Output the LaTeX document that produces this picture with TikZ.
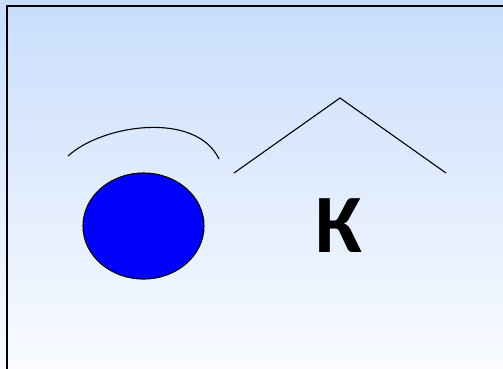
\documentclass[tikz,border=0pt]{standalone}
\usepackage{fontspec}
\newfontfamily\calib{Carlito}
\usetikzlibrary{shapes.geometric}
\definecolor{bgtop}{RGB}{200,221,252}
\definecolor{bgbot}{RGB}{249,251,255}
\definecolor{dotblue}{RGB}{0,0,255}
\tikzset{
  thinline/.style={draw=black, line width=1.1pt},
  dot/.style={ellipse, draw=black, line width=1.1pt, fill=dotblue, minimum width=121pt, minimum height=106pt, inner sep=0pt},
  letter/.style={font=\calib\bfseries\fontsize{83}{83}\selectfont, inner sep=0pt, text=black}
}
\begin{document}
\begin{tikzpicture}[x=1pt,y=-1pt]
\useasboundingbox (0,0) rectangle (503,368);
\shade[top color=bgtop, bottom color=bgbot] (0,0) rectangle (503,368);
\draw[line width=1.5pt] (7,380) -- (7,6) -- (515,6);
\node[dot] (ball) at (143.5,226) {};
\coordinate (arcL) at (68,156);
\coordinate (arcR) at (219,159);
\draw[thinline] (arcL) .. controls (103,124) and (196,111) .. (arcR);
\coordinate (angL) at (234,173);
\coordinate (angT) at (340,98);
\coordinate (angR) at (446,173);
\draw[thinline] (angL) -- (angT) -- (angR);
\node[letter, anchor=base] (k) at (338.5,252) {К};
\end{tikzpicture}
\end{document}
